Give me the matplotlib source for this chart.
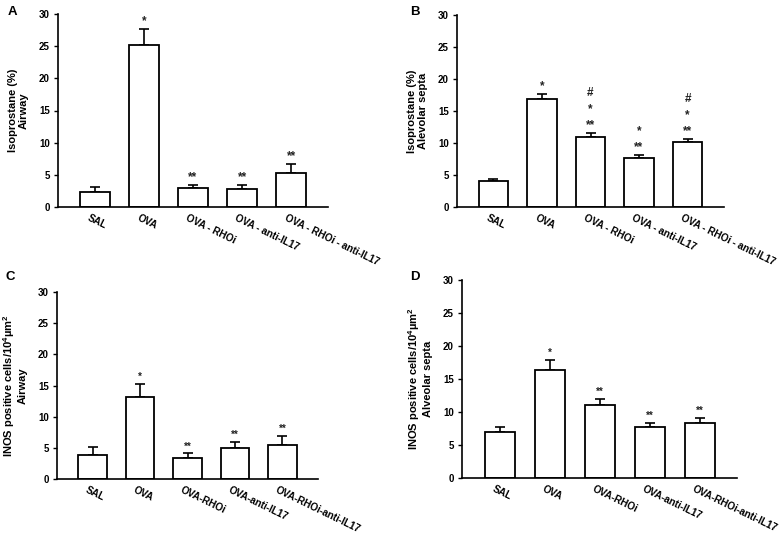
import matplotlib
matplotlib.use("Agg")
import matplotlib.pyplot as plt
import matplotlib.transforms as mtransforms
import numpy as np

plt.rcParams["font.family"] = ["Liberation Sans", "DejaVu Sans"]
plt.rcParams["font.weight"] = "bold"
plt.rcParams["mathtext.default"] = "regular"

# --------------------
# data
# --------------------
labels_ab = ["SAL", "OVA", "OVA - RHOi", "OVA - anti-IL17", "OVA - RHOi - anti-IL17"]
labels_cd = ["SAL", "OVA", "OVA-RHOi", "OVA-anti-IL17", "OVA-RHOi-anti-IL17"]

iso_airway = [2.4, 25.2, 2.95, 2.8, 5.3]
iso_airway_err = [0.7, 2.5, 0.5, 0.55, 1.4]

iso_septa = [4.1, 16.9, 10.9, 7.6, 10.2]
iso_septa_err = [0.35, 0.7, 0.6, 0.5, 0.4]

inos_airway = [3.9, 13.15, 3.3, 4.9, 5.45]
inos_airway_err = [1.2, 2.15, 0.8, 1.05, 1.4]

inos_septa = [6.9, 16.4, 11.1, 7.7, 8.35]
inos_septa_err = [0.9, 1.55, 0.9, 0.65, 0.8]

marks_a = ["", "*", "**", "**", "**"]
marks_b = ["", "*", "#\n*\n**", "*\n**", "#\n*\n**"]
marks_c = ["", "*", "**", "**", "**"]
marks_d = ["", "*", "**", "**", "**"]

W, H = 780, 536
fig = plt.figure(figsize=(W / 100, H / 100), dpi=100)
fig.patch.set_facecolor("white")


def px_axes(left, right, top, bottom):
    return fig.add_axes([left / W, 1 - bottom / H, (right - left) / W, (bottom - top) / H])


def draw_panel(ax, vals, errs, labels, marks, ylabel, star_fs):
    x = np.arange(len(vals))
    ax.errorbar(x, vals, yerr=[np.zeros(len(errs)), errs], fmt="none",
                ecolor="black", elinewidth=1.2, capsize=3.5, capthick=1.2, zorder=1)
    ax.bar(x, vals, width=0.6, color="white", edgecolor="black", linewidth=1.3, zorder=2)
    for xi, v, e, m in zip(x, vals, errs, marks):
        if m:
            ax.annotate(m, (xi, v + e), xytext=(0, 1.5), textcoords="offset points",
                        ha="center", va="bottom", fontsize=star_fs, fontweight="bold",
                        linespacing=1.45, color="#222222")
    ax.set_xlim(-0.75, 4.75)
    ax.set_ylim(0, 30)
    ax.set_yticks(range(0, 31, 5))
    ax.tick_params(axis="y", labelsize=7, length=3, width=1, pad=3)
    ax.tick_params(axis="x", length=0, pad=4)
    ax.set_xticks(x)
    ax.set_xticklabels(labels, rotation=-26, ha="left", va="top",
                       rotation_mode="anchor", fontsize=7.2)
    shift = mtransforms.ScaledTranslation(-3 / 72, 0, fig.dpi_scale_trans)
    for t in ax.get_xticklabels():
        t.set_transform(t.get_transform() + shift)
    ax.set_ylabel(ylabel, fontsize=8, fontweight="bold", linespacing=1.1, labelpad=7)
    ax.spines["top"].set_visible(False)
    ax.spines["right"].set_visible(False)
    ax.spines["left"].set_linewidth(1.2)
    ax.spines["bottom"].set_linewidth(1.2)
    ax.set_facecolor("none")


ax_a = px_axes(58, 328, 14, 207)
draw_panel(ax_a, iso_airway, iso_airway_err, labels_ab, marks_a,
           "Isoprostane (%)\nAirway", 8.5)

ax_b = px_axes(457, 724, 15, 207)
draw_panel(ax_b, iso_septa, iso_septa_err, labels_ab, marks_b,
           "Isoprostane (%)\nAlevolar septa", 8.5)

ax_c = px_axes(57, 318, 292, 479)
draw_panel(ax_c, inos_airway, inos_airway_err, labels_cd, marks_c,
           "INOS positive cells/10$^{4}$µm$^{2}$\nAirway", 7)

ax_d = px_axes(462, 737, 280, 478)
draw_panel(ax_d, inos_septa, inos_septa_err, labels_cd, marks_d,
           "INOS positive cells/10$^{4}$µm$^{2}$\nAlveolar septa", 7)

# panel letters
for letter, xp, yp in [("A", 8, 12), ("B", 410, 12), ("C", 6, 277), ("D", 410, 277)]:
    fig.text(xp / W, 1 - yp / H, letter, fontsize=9.5, fontweight="bold", ha="left", va="center")

plt.savefig("out.png", dpi=100)
plt.close()
